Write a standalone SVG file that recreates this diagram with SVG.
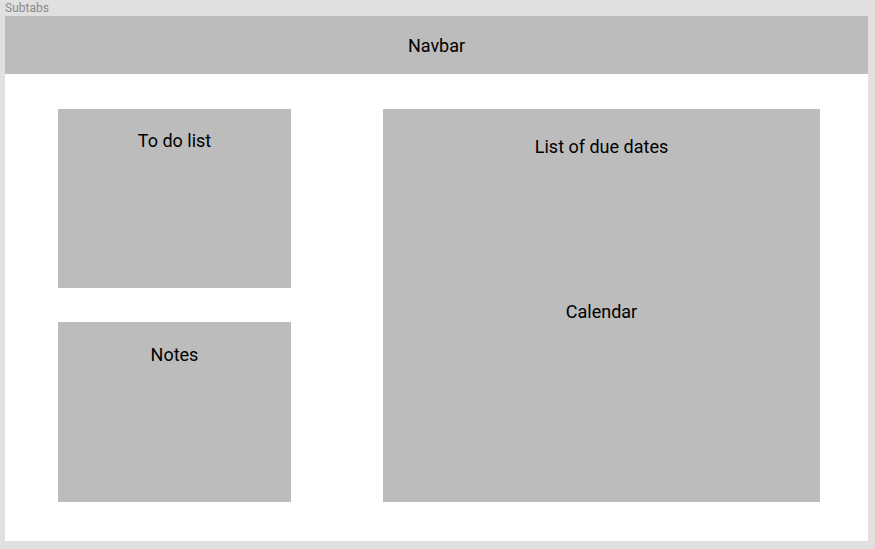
<svg xmlns="http://www.w3.org/2000/svg" width="875" height="549" viewBox="0 0 875 549">
<style>
.box{fill:#bcbcbc}
.lbl{font-family:Roboto,"Liberation Sans",sans-serif;font-size:18px;fill:#000;text-anchor:middle}
</style>
<rect x="0" y="0" width="875" height="549" fill="#e0e0e0"/>
<text x="5" y="12" font-family="Roboto,'Liberation Sans',sans-serif" font-size="12" fill="#8a8a8a">Subtabs</text>
<rect x="5" y="16" width="863" height="525" fill="#ffffff"/>
<g id="navbar"><rect class="box" x="5" y="16" width="863" height="58"/><text class="lbl" x="436.5" y="52">Navbar</text></g>
<g id="todo"><rect class="box" x="58" y="109" width="233" height="179"/><text class="lbl" x="174.5" y="146.5">To do list</text></g>
<g id="notes"><rect class="box" x="58" y="322" width="233" height="180"/><text class="lbl" x="174.5" y="361">Notes</text></g>
<g id="calendar"><rect class="box" x="383" y="109" width="437" height="393"/><text class="lbl" x="601.5" y="152.5">List of due dates</text><text class="lbl" x="601.5" y="318">Calendar</text></g>
<g id="connectors"/>
</svg>
